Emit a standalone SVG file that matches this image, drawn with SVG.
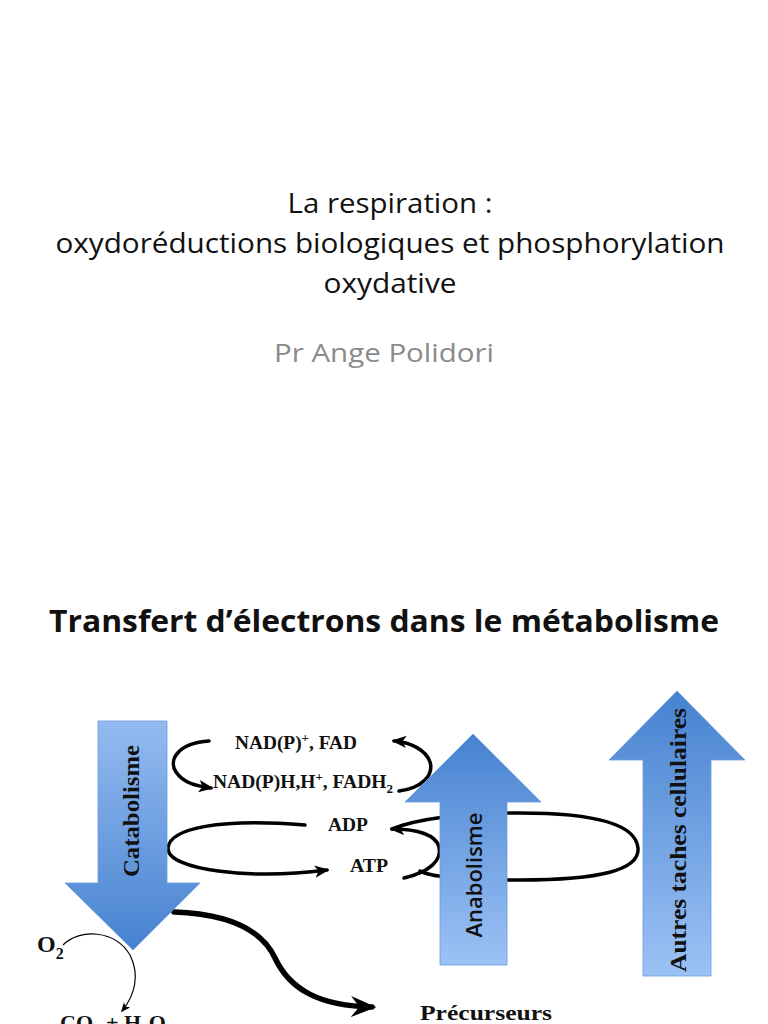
<svg xmlns="http://www.w3.org/2000/svg" width="768" height="1024" viewBox="0 0 768 1024">
<defs>
<style>
.t{font-family:"Open Sans","Liberation Sans",sans-serif;fill:#111;text-anchor:middle}
.s{font-family:"Liberation Serif","DejaVu Serif",serif;font-weight:bold;fill:#111}
.c{fill:none;stroke:#000;stroke-width:3.5;stroke-linecap:round}
</style>
<linearGradient id="gDown" x1="0" y1="0" x2="0" y2="1">
<stop offset="0" stop-color="#94bbf0"/>
<stop offset="1" stop-color="#4682d0"/>
</linearGradient>
<linearGradient id="gUp" x1="0" y1="0" x2="0" y2="1">
<stop offset="0" stop-color="#4682d0"/>
<stop offset="1" stop-color="#9cc2f5"/>
</linearGradient>
<marker id="ah" viewBox="0 0 12 10" refX="10" refY="5" markerWidth="4.2" markerHeight="4.2" orient="auto" markerUnits="strokeWidth">
<path d="M0,0 L12,5 L0,10 L3,5 Z" fill="#000"/>
</marker>
<marker id="ahT" viewBox="0 0 12 10" refX="10" refY="5" markerWidth="8" markerHeight="8" orient="auto" markerUnits="strokeWidth">
<path d="M0,0 L12,5 L0,10 L3,5 Z" fill="#000"/>
</marker>
<marker id="ahB" viewBox="0 0 12 10" refX="10" refY="5" markerWidth="4.6" markerHeight="4.6" orient="auto" markerUnits="strokeWidth">
<path d="M0,0 L12,5 L0,10 L4,5 Z" fill="#000"/>
</marker>
</defs>
<rect width="768" height="1024" fill="#fff"/>

<g id="title-slide">
<text class="t" x="390" y="213" font-size="27" textLength="205" lengthAdjust="spacingAndGlyphs">La respiration :</text>
<text class="t" x="390" y="253" font-size="27" textLength="669" lengthAdjust="spacingAndGlyphs">oxydoréductions biologiques et phosphorylation</text>
<text class="t" x="390" y="293" font-size="27" textLength="133" lengthAdjust="spacingAndGlyphs">oxydative</text>
<text class="t" x="384" y="362" font-size="26" style="fill:#8a8a8a" textLength="220" lengthAdjust="spacingAndGlyphs">Pr Ange Polidori</text>
</g>

<g id="slide2-title">
<text class="t" x="384" y="632" font-size="30" font-weight="bold" textLength="670" lengthAdjust="spacingAndGlyphs">Transfert d’électrons dans le métabolisme</text>
</g>

<g id="connectors">
<path class="c" d="M209,741 C178,743 168,760 176,772 C184,784 198,786 211,788" marker-end="url(#ah)"/>
<path class="c" d="M399,791 C422,788 434,775 430,762 C426,750 410,742 394,741" marker-end="url(#ah)"/>
<path class="c" d="M305,825 C220,818 170,828 168,848 C167,870 250,880 327,870" marker-end="url(#ah)"/>
<path class="c" d="M404,878 C430,872 442,860 439,847 C436,835 418,829 392,829" marker-end="url(#ah)"/>
<path class="c" d="M420,871 C430,877 470,880 520,880 C600,880 640,870 638,848 C636,826 600,813 520,813 C460,813 420,818 392,829"/>
<path fill="none" stroke="#000" stroke-width="5.5" stroke-linecap="round" d="M174,912 C230,914 262,930 275,958 C290,990 320,1006 372,1007" marker-end="url(#ahB)"/>
<path fill="none" stroke="#000" stroke-width="1.2" d="M63,945 C80,928 115,930 130,955 C140,975 135,995 122,1011" marker-end="url(#ahT)"/>
</g>

<g id="catabolisme">
<path d="M98,721 H167 V883 H200 L133,950 L65,883 H98 Z" fill="url(#gDown)" stroke="#6d9de0" stroke-width="0.8"/>
<text class="s" transform="translate(139,811) rotate(-90)" font-size="24" text-anchor="middle" textLength="132" lengthAdjust="spacingAndGlyphs">Catabolisme</text>
</g>

<g id="anabolisme">
<path d="M473,734 L541,802 H507 V965 H440 V802 H405 Z" fill="url(#gUp)" stroke="#6d9de0" stroke-width="0.8"/>
<text transform="translate(482,875) rotate(-90)" font-family="Open Sans, Liberation Sans, sans-serif" font-weight="600" font-size="21" fill="#111" text-anchor="middle" textLength="125" lengthAdjust="spacingAndGlyphs">Anabolisme</text>
</g>

<g id="autres">
<path d="M677,691 L745,760 H711 V976 H643 V760 H609 Z" fill="url(#gUp)" stroke="#6d9de0" stroke-width="0.8"/>
<text class="s" transform="translate(686,840) rotate(-90)" font-size="23" text-anchor="middle" textLength="264" lengthAdjust="spacingAndGlyphs">Autres taches cellulaires</text>
</g>

<g id="labels">
<text class="s" x="235" y="749" font-size="18" textLength="122" lengthAdjust="spacingAndGlyphs">NAD(P)<tspan dy="-7" font-size="12">+</tspan><tspan dy="7">, FAD</tspan></text>
<text class="s" x="213" y="788" font-size="18" textLength="180" lengthAdjust="spacingAndGlyphs">NAD(P)H,H<tspan dy="-7" font-size="12">+</tspan><tspan dy="7">, FADH</tspan><tspan dy="5" font-size="12">2</tspan></text>
<text class="s" x="328" y="831" font-size="18" textLength="40" lengthAdjust="spacingAndGlyphs">ADP</text>
<text class="s" x="350" y="872" font-size="18" textLength="38" lengthAdjust="spacingAndGlyphs">ATP</text>
<text class="s" x="37" y="952" font-size="24">O<tspan dy="7" font-size="16">2</tspan></text>
<text class="s" x="420" y="1020" font-size="20" textLength="132" lengthAdjust="spacingAndGlyphs">Précurseurs</text>
<text class="s" x="60" y="1030" font-size="22">CO<tspan dy="5" font-size="15">2</tspan><tspan dy="-5"> + H</tspan><tspan dy="5" font-size="15">2</tspan><tspan dy="-5">O</tspan></text>
</g>
</svg>
